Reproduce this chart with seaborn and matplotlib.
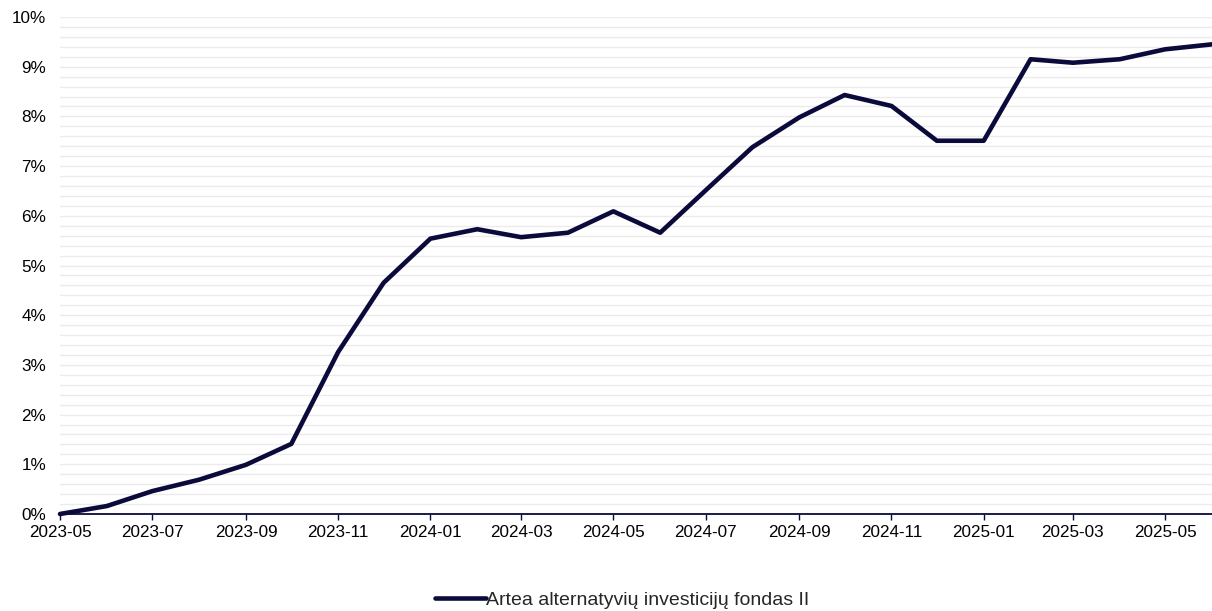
import matplotlib
matplotlib.use("Agg")
import matplotlib.pyplot as plt
import matplotlib.dates as mdates
from matplotlib.ticker import FuncFormatter, MultipleLocator
from matplotlib.lines import Line2D
import seaborn as sns
import pandas as pd

months = pd.date_range("2023-05-01", "2025-06-01", freq="MS")
values = [0.00, 0.16, 0.46, 0.69, 0.99, 1.41, 3.26, 4.65, 5.54, 5.73,
          5.57, 5.66, 6.09, 5.66, 6.51, 7.38, 7.98, 8.43, 8.21, 7.51,
          7.51, 9.15, 9.08, 9.15, 9.35, 9.45]
series_name = "Artea alternatyvių investicijų fondas II"

df = pd.DataFrame({"date": months, "value": values, "series": series_name})

sns.set_theme(style="white")
plt.rcParams["font.family"] = ["Liberation Sans", "DejaVu Sans"]

navy = "#0b0b3b"
fig = plt.figure(figsize=(12.12, 6.11), dpi=100)
ax = fig.add_axes([60/1212, 1 - 514/611, 1 - 60/1212, (514 - 17)/611])

sns.lineplot(data=df, x="date", y="value", hue="series", palette=[navy],
             linewidth=3.3, ax=ax, legend=False, clip_on=False, zorder=3)

ax.set_xlim(months[0], months[-1])
ax.set_ylim(0, 10)
ax.yaxis.set_major_locator(MultipleLocator(1))
ax.yaxis.set_minor_locator(MultipleLocator(0.2))
ax.yaxis.set_major_formatter(FuncFormatter(lambda v, p: f"{v:.0f}%"))
ax.grid(True, which="both", axis="y", color="#ebebeb", linewidth=1.0)
ax.grid(False, axis="x")
ax.set_axisbelow(True)

ax.xaxis.set_major_locator(mdates.MonthLocator(bymonth=[1, 3, 5, 7, 9, 11]))
ax.xaxis.set_major_formatter(mdates.DateFormatter("%Y-%m"))

for s in ["top", "right", "left"]:
    ax.spines[s].set_visible(False)
ax.spines["bottom"].set_color(navy)
ax.spines["bottom"].set_linewidth(1.3)
ax.tick_params(axis="x", which="major", bottom=True, length=4, width=1, color=navy,
               labelsize=12.3, labelcolor="#000000", pad=4)
ax.tick_params(axis="y", which="both", left=False, labelsize=12.3, labelcolor="#000000", pad=4)
ax.set_xlabel("")
ax.set_ylabel("")

handle = Line2D([0], [0], color=navy, linewidth=3.3)
fig.legend([handle], [series_name], loc="center", bbox_to_anchor=(622/1212, 1 - 600/611),
           frameon=False, fontsize=14, handlelength=2.6, handletextpad=0.0)

fig.savefig("out.png", dpi=100, facecolor="white")
